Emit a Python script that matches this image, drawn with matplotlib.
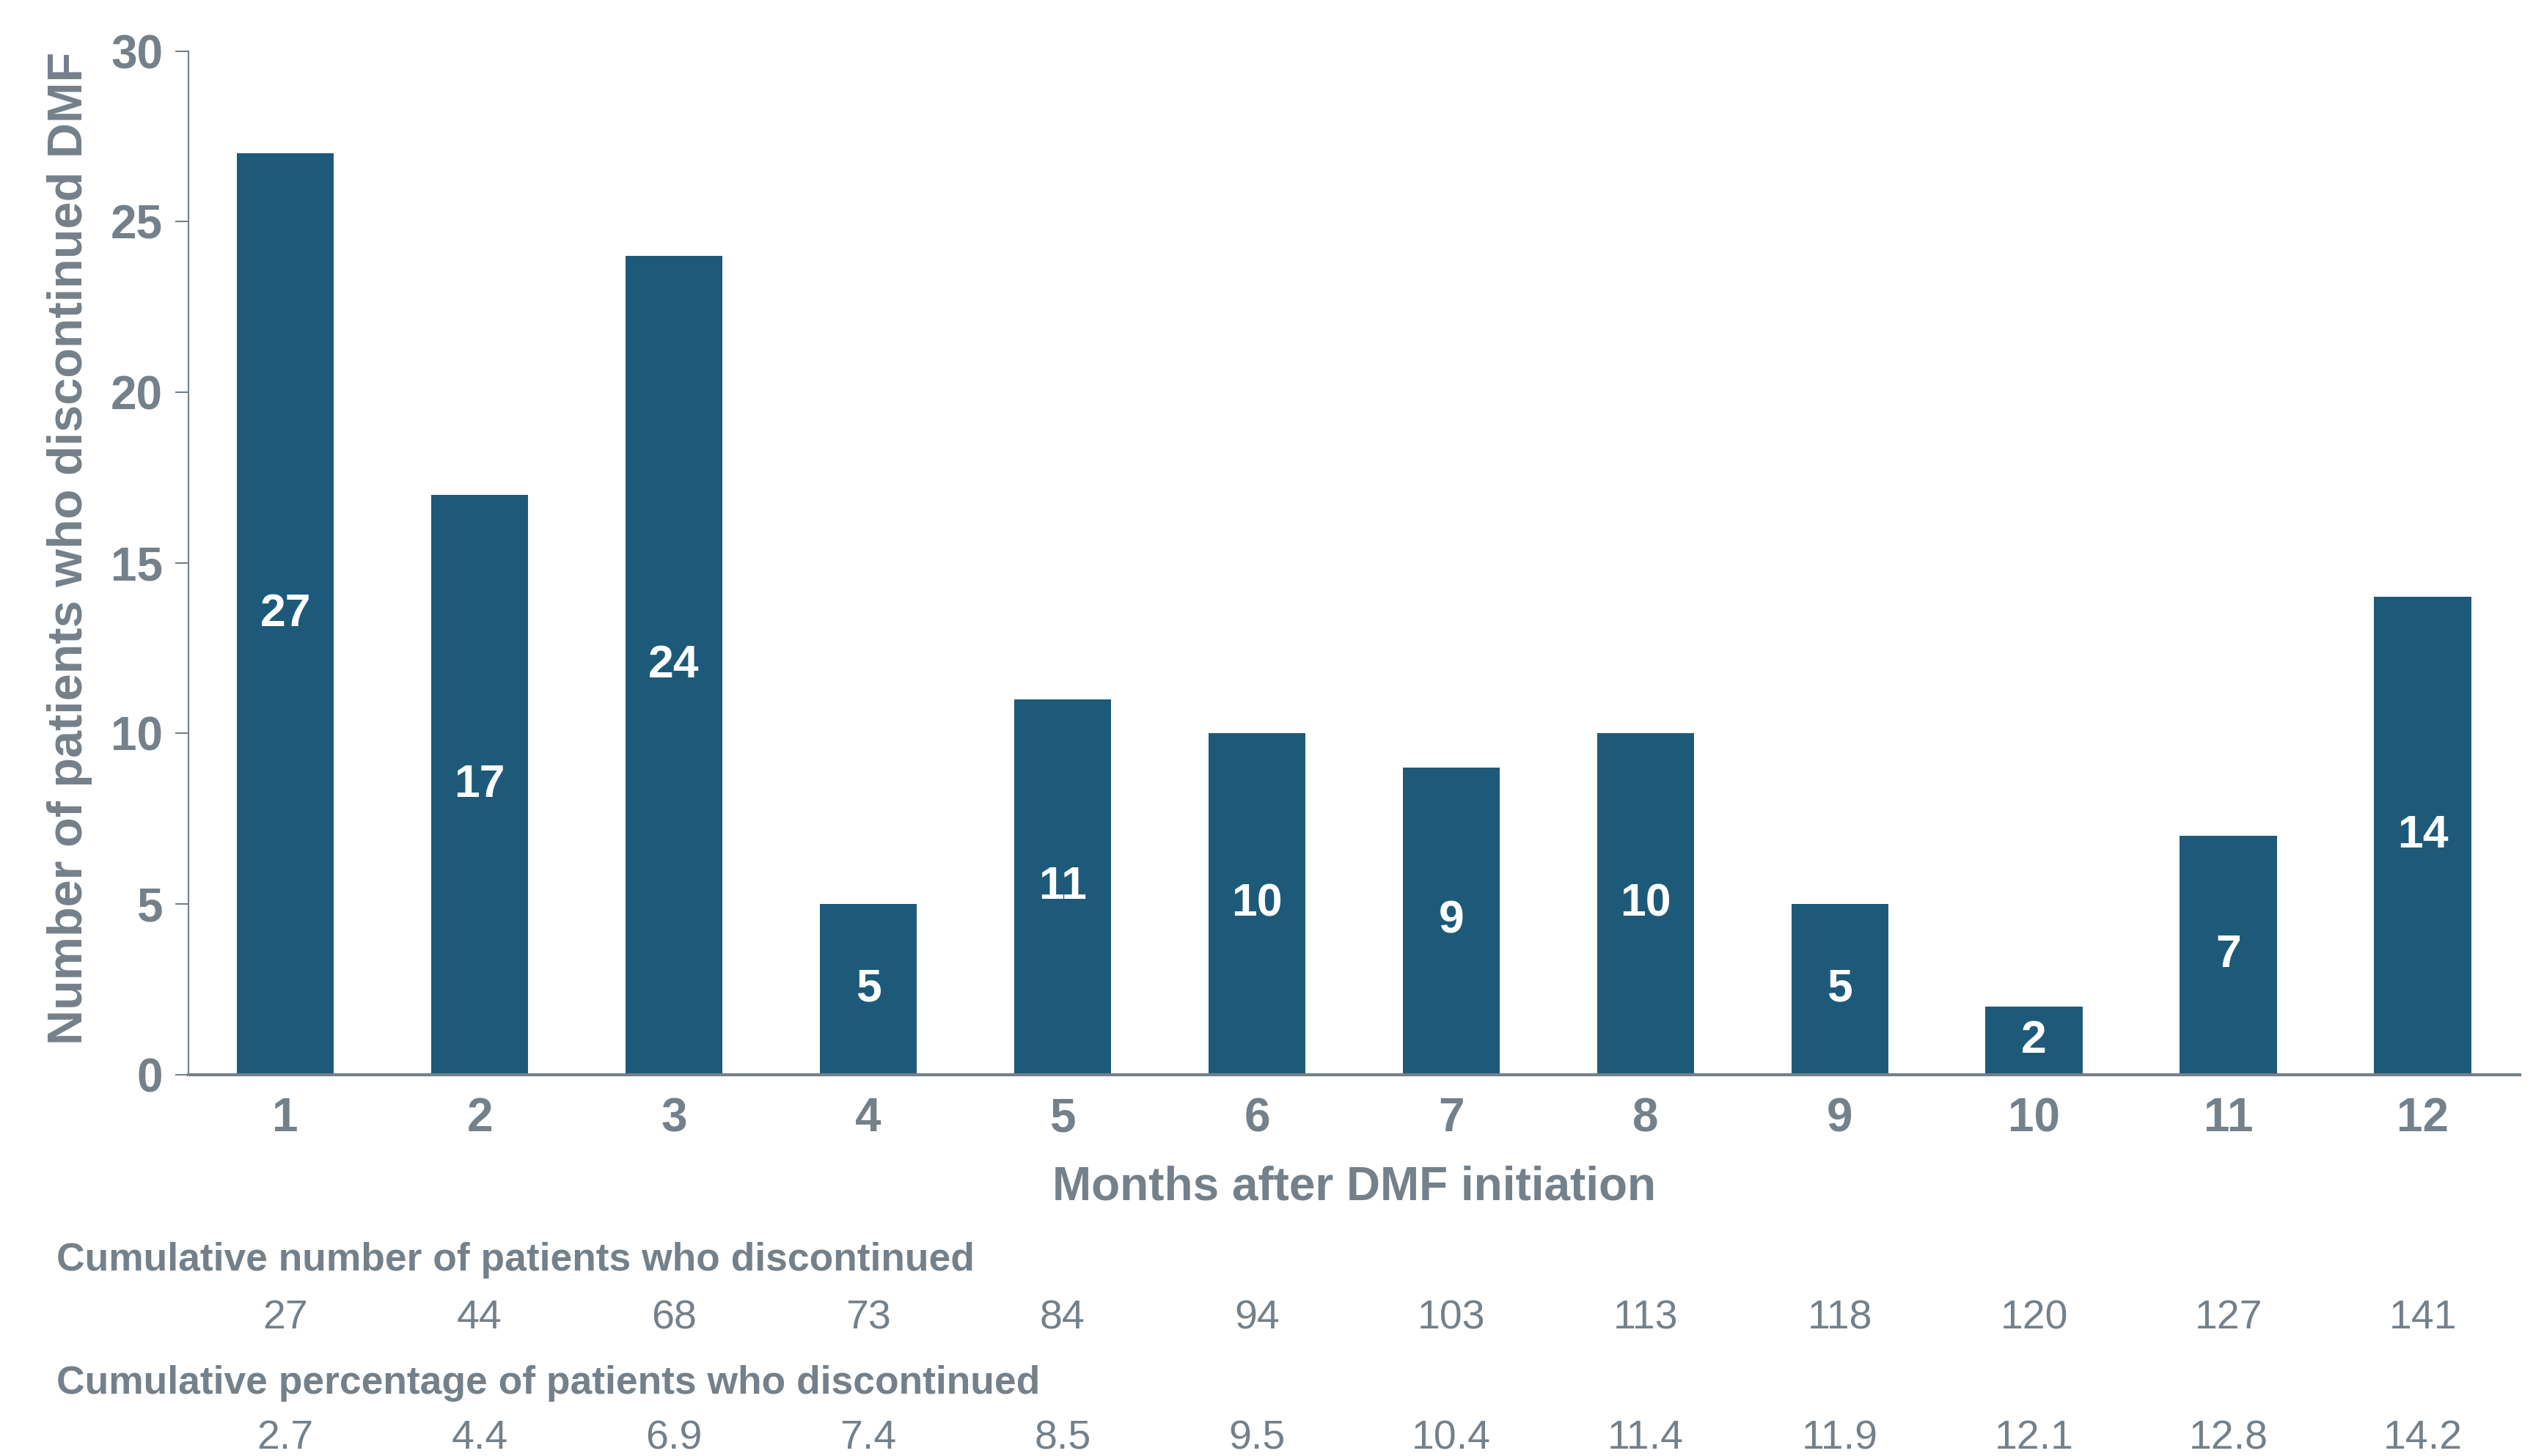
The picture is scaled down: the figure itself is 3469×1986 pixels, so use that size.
import matplotlib
matplotlib.use("Agg")
import matplotlib.pyplot as plt
from matplotlib import font_manager as fm
import matplotlib.transforms as mtransforms

months = [1, 2, 3, 4, 5, 6, 7, 8, 9, 10, 11, 12]
discontinued = [27, 17, 24, 5, 11, 10, 9, 10, 5, 2, 7, 14]
cum_number = ["27", "44", "68", "73", "84", "94", "103", "113", "118", "120", "127", "141"]
cum_pct = ["2.7", "4.4", "6.9", "7.4", "8.5", "9.5", "10.4", "11.4", "11.9", "12.1", "12.8", "14.2"]
yticks = [0, 5, 10, 15, 20, 25, 30]

names = {f.name for f in fm.fontManager.ttflist}
NARROW = "Liberation Sans Narrow" if "Liberation Sans Narrow" in names else "Liberation Sans"
WIDE = "Liberation Sans"

BAR = "#1D5A7A"
GRAY = "#74808A"

fig = plt.figure(figsize=(34.69, 19.86), dpi=100)
ax = fig.add_axes([0.074, 0.262, 0.9165, 0.703])

ax.bar(months, discontinued, width=0.5, color=BAR, zorder=2)
for m, v in zip(months, discontinued):
    ax.text(m, v / 2, str(v), ha="center", va="center", color="white",
            fontsize=45, fontweight="bold", family=[WIDE, "DejaVu Sans"])

ax.set_xlim(0.5, 12.5)
ax.set_ylim(0, 30)
ax.set_yticks(yticks)
ax.set_xticks(months)
ax.set_xticklabels([str(m) for m in months])
for s in ["top", "right"]:
    ax.spines[s].set_visible(False)
ax.spines["left"].set_color(GRAY)
ax.spines["left"].set_linewidth(1.5)
ax.spines["bottom"].set_color(GRAY)
ax.spines["bottom"].set_linewidth(3)
ax.tick_params(axis="y", direction="out", length=13, width=1.5, color=GRAY, pad=12,
               labelsize=46, labelcolor=GRAY)
ax.tick_params(axis="x", length=0, pad=22, labelsize=46, labelcolor=GRAY)
for lab in ax.get_xticklabels() + ax.get_yticklabels():
    lab.set_family([NARROW, "DejaVu Sans"])
    lab.set_fontweight("bold")

ax.set_ylabel("Number of patients who discontinued DMF", fontsize=48, fontweight="bold",
              color=GRAY, family=[WIDE, "DejaVu Sans"])
ax.yaxis.set_label_coords(-0.041, 0.514)
ax.set_xlabel("Months after DMF initiation", fontsize=46, fontweight="bold", color=GRAY,
              family=[WIDE, "DejaVu Sans"])
ax.xaxis.set_label_coords(0.5, -0.089)

trans = mtransforms.blended_transform_factory(ax.transData, fig.transFigure)
fig.text(0.0223, 0.1343, "Cumulative number of patients who discontinued", fontsize=38.4,
         fontweight="bold", color=GRAY, family=[NARROW, "DejaVu Sans"], va="center", ha="left")
fig.text(0.0223, 0.0497, "Cumulative percentage of patients who discontinued", fontsize=38.4,
         fontweight="bold", color=GRAY, family=[NARROW, "DejaVu Sans"], va="center", ha="left")
for m, a, b in zip(months, cum_number, cum_pct):
    ax.text(m, 0.0945, a, transform=trans, ha="center", va="center", fontsize=40,
            color=GRAY, family=[NARROW, "DejaVu Sans"])
    ax.text(m, 0.0120, b, transform=trans, ha="center", va="center", fontsize=40,
            color=GRAY, family=[NARROW, "DejaVu Sans"])

fig.savefig("out.png", dpi=100, facecolor="white")
